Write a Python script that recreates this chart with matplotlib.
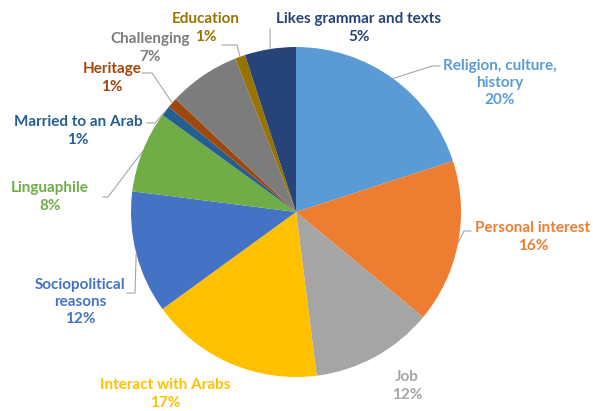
import numpy as np
import matplotlib.pyplot as plt

plt.rcParams['font.family'] = ['Lato', 'DejaVu Sans']

# data
labels = ['Religion, culture,\nhistory', 'Personal interest', 'Job', 'Interact with Arabs',
          'Sociopolitical\nreasons', 'Linguaphile', 'Married to an Arab', 'Heritage',
          'Challenging', 'Education', 'Likes grammar and texts']
values = [20, 16, 12, 17, 12, 8, 1, 1, 7, 1, 5]
colors = ['#5B9BD5', '#ED7D31', '#A5A5A5', '#FFC000', '#4472C4', '#70AD47',
          '#255E91', '#9E480E', '#7C7C7C', '#997300', '#264478']

W, H = 593, 411
cx, cy, r = 296, 212, 165  # pixel coords, y down

# label centre (pixels) and leader knee points (pixels); None = no line
label_pos = [(500, 83), (533, 237), (407, 386), (165, 394), (80, 302), (50, 197),
             (78, 131), (112, 78), (150, 48), (206, 28), (359, 28)]
leaders = [[(432, 66), (440, 66)], [(464, 231), (471, 231)], None, None,
           [(135, 293), (127, 293)], [(108, 197), (103, 197)],
           [(155, 123), (147, 123)], [(152, 73), (142, 73)], None,
           [(237, 45), (222, 45)], [(270, 29)]]

fig = plt.figure(figsize=(W / 100, H / 100), dpi=100)
ax = fig.add_axes([0, 0, 1, 1])

ax.pie(values, colors=colors, startangle=90, counterclock=False,
       center=(cx, H - cy), radius=r, wedgeprops=dict(linewidth=0))
ax.set_xlim(0, W)
ax.set_ylim(0, H)
ax.set_aspect('auto')
ax.axis('off')

total = sum(values)
cum = np.cumsum([0] + values)
for i, lab in enumerate(labels):
    pct = f'{values[i] / total * 100:.0f}%'
    x, y = label_pos[i]
    ax.text(x, H - y, f'{lab}\n{pct}', color=colors[i], fontsize=11, fontweight='bold',
            ha='center', va='center', linespacing=1.3)
    if leaders[i] is not None:
        mid = (cum[i] + cum[i + 1]) / 2 / total * 2 * np.pi
        ex = cx + r * np.sin(mid)
        ey = cy - r * np.cos(mid)
        pts = [(ex, ey)] + leaders[i]
        ax.plot([p[0] for p in pts], [H - p[1] for p in pts], color='#A6A6A6', lw=0.8)

fig.savefig('out.png', dpi=100)
